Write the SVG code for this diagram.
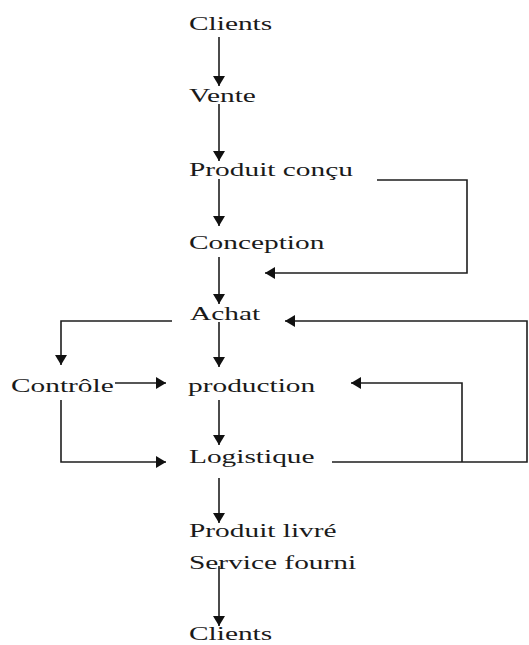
<svg xmlns="http://www.w3.org/2000/svg" width="529" height="645" viewBox="0 0 529 645">
  <style>
    .lbl { font-family: "Liberation Serif", "Times New Roman", serif; font-size: 19px; fill: #1a1a1a; }
    .ln { fill: none; stroke: #1e1e1e; stroke-width: 1.6; }
    .arr { marker-end: url(#ah); }
  </style>
  <defs>
    <marker id="ah" viewBox="0 0 10 12" refX="10" refY="6" markerWidth="10" markerHeight="12" markerUnits="userSpaceOnUse" orient="auto">
      <path d="M0,0 L10,6 L0,12 z" fill="#111"/>
    </marker>
  </defs>
  <rect width="529" height="645" fill="#fff"/>

  <!-- connectors -->
  <g id="connectors">
    <path class="ln arr" d="M219,37 V86"/>
    <path class="ln arr" d="M219,104 V161"/>
    <path class="ln arr" d="M219,179 V226"/>
    <path class="ln arr" d="M219,257 V304"/>
    <path class="ln arr" d="M377,180 H467 V273 H265"/>
    <path class="ln arr" d="M172,321 H61 V365"/>
    <path class="ln arr" d="M219,322 V367"/>
    <path class="ln arr" d="M115,383 H166"/>
    <path class="ln arr" d="M61,400 V462 H166"/>
    <path class="ln arr" d="M219,400 V445"/>
    <path class="ln arr" d="M332,462 H527 V321 H285"/>
    <path class="ln arr" d="M462,462 V383 H351"/>
    <path class="ln arr" d="M219,478 V523"/>
    <path class="ln arr" d="M219,566 V626"/>
  </g>

  <!-- nodes -->
  <g id="clients-in" transform="translate(189,30) scale(1.546,1)"><text class="lbl">Clients</text></g>
  <g id="vente" transform="translate(189,102) scale(1.546,1)"><text class="lbl">Vente</text></g>
  <g id="produit-concu" transform="translate(189,176) scale(1.546,1)"><text class="lbl">Produit conçu</text></g>
  <g id="conception" transform="translate(189,249) scale(1.546,1)"><text class="lbl">Conception</text></g>
  <g id="achat" transform="translate(190,320) scale(1.546,1)"><text class="lbl">Achat</text></g>
  <g id="controle" transform="translate(11,392) scale(1.546,1)"><text class="lbl">Contrôle</text></g>
  <g id="production" transform="translate(188,392) scale(1.546,1)"><text class="lbl">production</text></g>
  <g id="logistique" transform="translate(189,463) scale(1.546,1)"><text class="lbl">Logistique</text></g>
  <g id="produit-livre" transform="translate(189,537) scale(1.546,1)"><text class="lbl">Produit livré</text></g>
  <g id="service-fourni" transform="translate(189,569) scale(1.546,1)"><text class="lbl">Service fourni</text></g>
  <g id="clients-out" transform="translate(189,640) scale(1.546,1)"><text class="lbl">Clients</text></g>
</svg>
